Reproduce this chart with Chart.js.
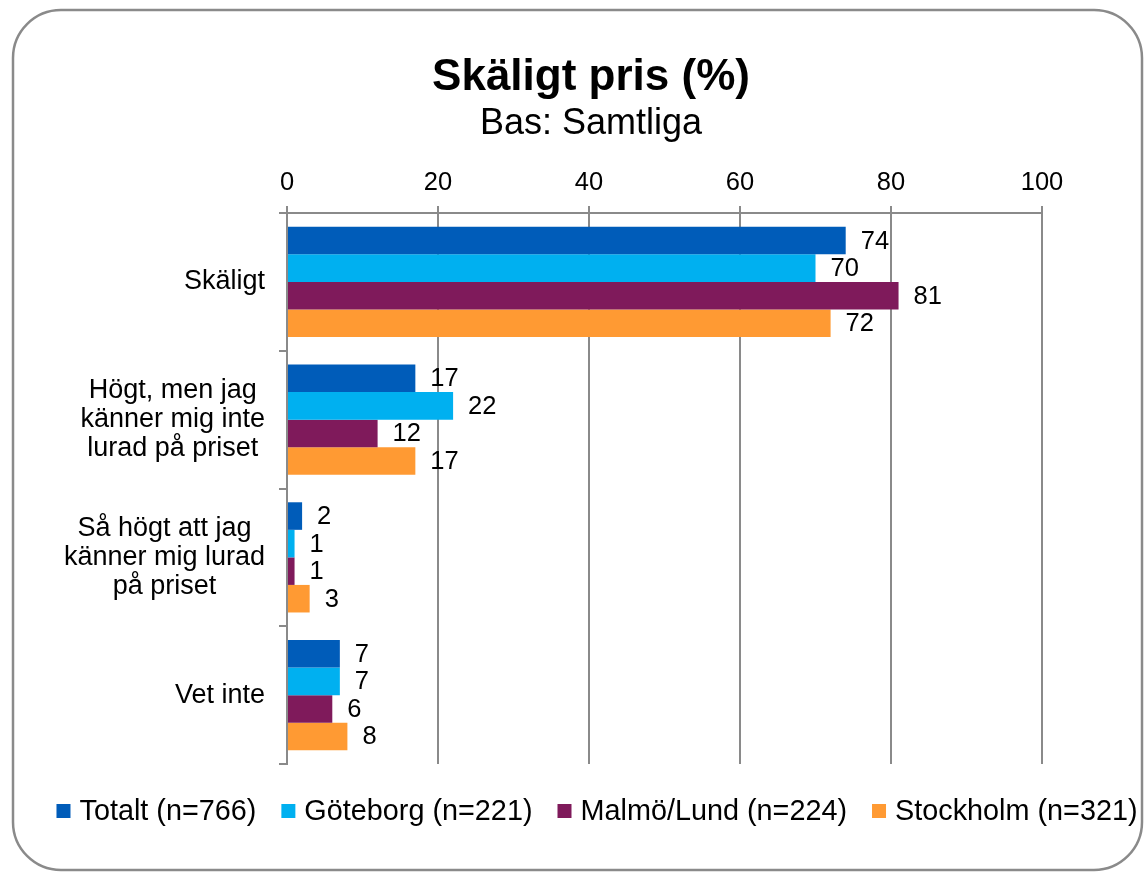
<!DOCTYPE html>
<html>
<head>
<meta charset="utf-8">
<script src="https://cdn.jsdelivr.net/npm/chart.js@4.4.0/dist/chart.umd.min.js"></script>
<style>
  body { margin: 0; background: #fff; }
  #wrap { width: 1144px; height: 873px; }
</style>
</head>
<body>
<div id="wrap"><canvas id="chart" width="1144" height="873"></canvas></div>
<script>
// data
const categories = ['Skäligt', ['Högt, men jag', 'känner mig inte', 'lurad på priset'], ['Så högt att jag', 'känner mig lurad', 'på priset'], 'Vet inte'];
const seriesNames = ['Totalt (n=766)', 'Göteborg (n=221)', 'Malmö/Lund (n=224)', 'Stockholm (n=321)'];
const totalt = [74, 17, 2, 7];
const goteborg = [70, 22, 1, 7];
const malmo = [81, 12, 1, 6];
const stockholm = [72, 17, 3, 8];
const xTicks = [0, 20, 40, 60, 80, 100];

const colors = ['#005cb9', '#00b0f0', '#7f1a5b', '#ff9a33'];
const gridColor = '#8a8a8a';
const FONT = '"Liberation Sans", Arial, sans-serif';

// rounded frame round the whole chart
const framePlugin = {
  id: 'frame',
  beforeDraw(chart) {
    const ctx = chart.ctx;
    ctx.save();
    ctx.fillStyle = '#fff';
    ctx.fillRect(0, 0, chart.width, chart.height);
    ctx.strokeStyle = '#8a8a8a';
    ctx.lineWidth = 2.5;
    ctx.beginPath();
    ctx.roundRect(13, 10, 1129, 860, 48);
    ctx.stroke();
    ctx.restore();
  }
};

// value labels at the end of the bars
const valueLabels = {
  id: 'valueLabels',
  afterDatasetsDraw(chart) {
    const ctx = chart.ctx;
    ctx.save();
    ctx.font = '25.5px ' + FONT;
    ctx.fillStyle = '#000';
    ctx.textAlign = 'left';
    ctx.textBaseline = 'middle';
    chart.data.datasets.forEach((ds, di) => {
      chart.getDatasetMeta(di).data.forEach((bar, i) => {
        ctx.fillText(String(ds.data[i]), bar.x + 15, bar.y + 1);
      });
    });
    ctx.restore();
  }
};

// category labels: block right aligned, lines centred
const categoryLabels = {
  id: 'categoryLabels',
  afterDraw(chart) {
    const ctx = chart.ctx;
    const y = chart.scales.y;
    const right = y.right - 22;
    const lh = 29;
    ctx.save();
    ctx.font = '27px ' + FONT;
    ctx.fillStyle = '#000';
    ctx.textAlign = 'center';
    ctx.textBaseline = 'middle';
    chart.data.labels.forEach((lab, i) => {
      const lines = Array.isArray(lab) ? lab : [lab];
      const w = Math.max(...lines.map(l => ctx.measureText(l).width));
      const cx = right - w / 2;
      const cy = y.getPixelForValue(i);
      lines.forEach((l, k) => ctx.fillText(l, cx, cy + (k - (lines.length - 1) / 2) * lh));
    });
    ctx.restore();
  }
};

// legend row under the plot
const bottomLegend = {
  id: 'bottomLegend',
  afterDraw(chart) {
    const ctx = chart.ctx;
    const box = 14, gap = 9, spacing = 25;
    ctx.save();
    ctx.font = '28.8px ' + FONT;
    ctx.textBaseline = 'middle';
    ctx.textAlign = 'left';
    const items = chart.data.datasets.map(ds => ({ text: ds.label, color: ds.backgroundColor, w: ctx.measureText(ds.label).width }));
    const total = items.reduce((s, it) => s + box + gap + it.w, 0) + spacing * (items.length - 1);
    let x = 597 - total / 2;
    const cy = chart.chartArea.bottom + 47;
    items.forEach(it => {
      ctx.fillStyle = it.color;
      ctx.fillRect(x, cy - box / 2, box, box);
      ctx.fillStyle = '#000';
      ctx.fillText(it.text, x + box + gap, cy + 1);
      x += box + gap + it.w + spacing;
    });
    ctx.restore();
  }
};

const seriesValues = [totalt, goteborg, malmo, stockholm];

new Chart(document.getElementById('chart'), {
  type: 'bar',
  data: {
    labels: categories,
    datasets: seriesNames.map((name, i) => ({
      label: name,
      data: seriesValues[i],
      backgroundColor: colors[i],
      borderWidth: 0,
      categoryPercentage: 0.8,
      barPercentage: 1.0
    }))
  },
  options: {
    indexAxis: 'y',
    responsive: false,
    animation: false,
    devicePixelRatio: 1,
    layout: { padding: { left: 140, right: 102, top: 0, bottom: 109 } },
    plugins: {
      legend: { display: false },
      tooltip: { enabled: false },
      title: {
        display: true,
        text: 'Skäligt pris (%)',
        color: '#000',
        font: { family: FONT, size: 44, weight: 'bold', lineHeight: 1.25 },
        padding: { top: 50, bottom: 0 }
      },
      subtitle: {
        display: true,
        text: 'Bas: Samtliga',
        color: '#000',
        font: { family: FONT, size: 36, lineHeight: 1.05 },
        padding: { top: 0, bottom: 0 }
      }
    },
    scales: {
      x: {
        position: 'top',
        min: xTicks[0],
        max: xTicks[xTicks.length - 1],
        afterFit(s) { s.height = 70.2; },
        ticks: {
          stepSize: xTicks[1] - xTicks[0],
          color: '#000',
          padding: 8,
          font: { family: FONT, size: 25.5 }
        },
        grid: { color: gridColor, lineWidth: 2, tickLength: 7 },
        border: { display: true, color: gridColor, width: 2 }
      },
      y: {
        afterFit(s) { s.width = 147; },
        ticks: { display: false },
        grid: { offset: true, drawOnChartArea: false, color: gridColor, lineWidth: 2, tickLength: 8 },
        border: { display: true, color: gridColor, width: 2 }
      }
    }
  },
  plugins: [framePlugin, valueLabels, categoryLabels, bottomLegend]
});
</script>
</body>
</html>
